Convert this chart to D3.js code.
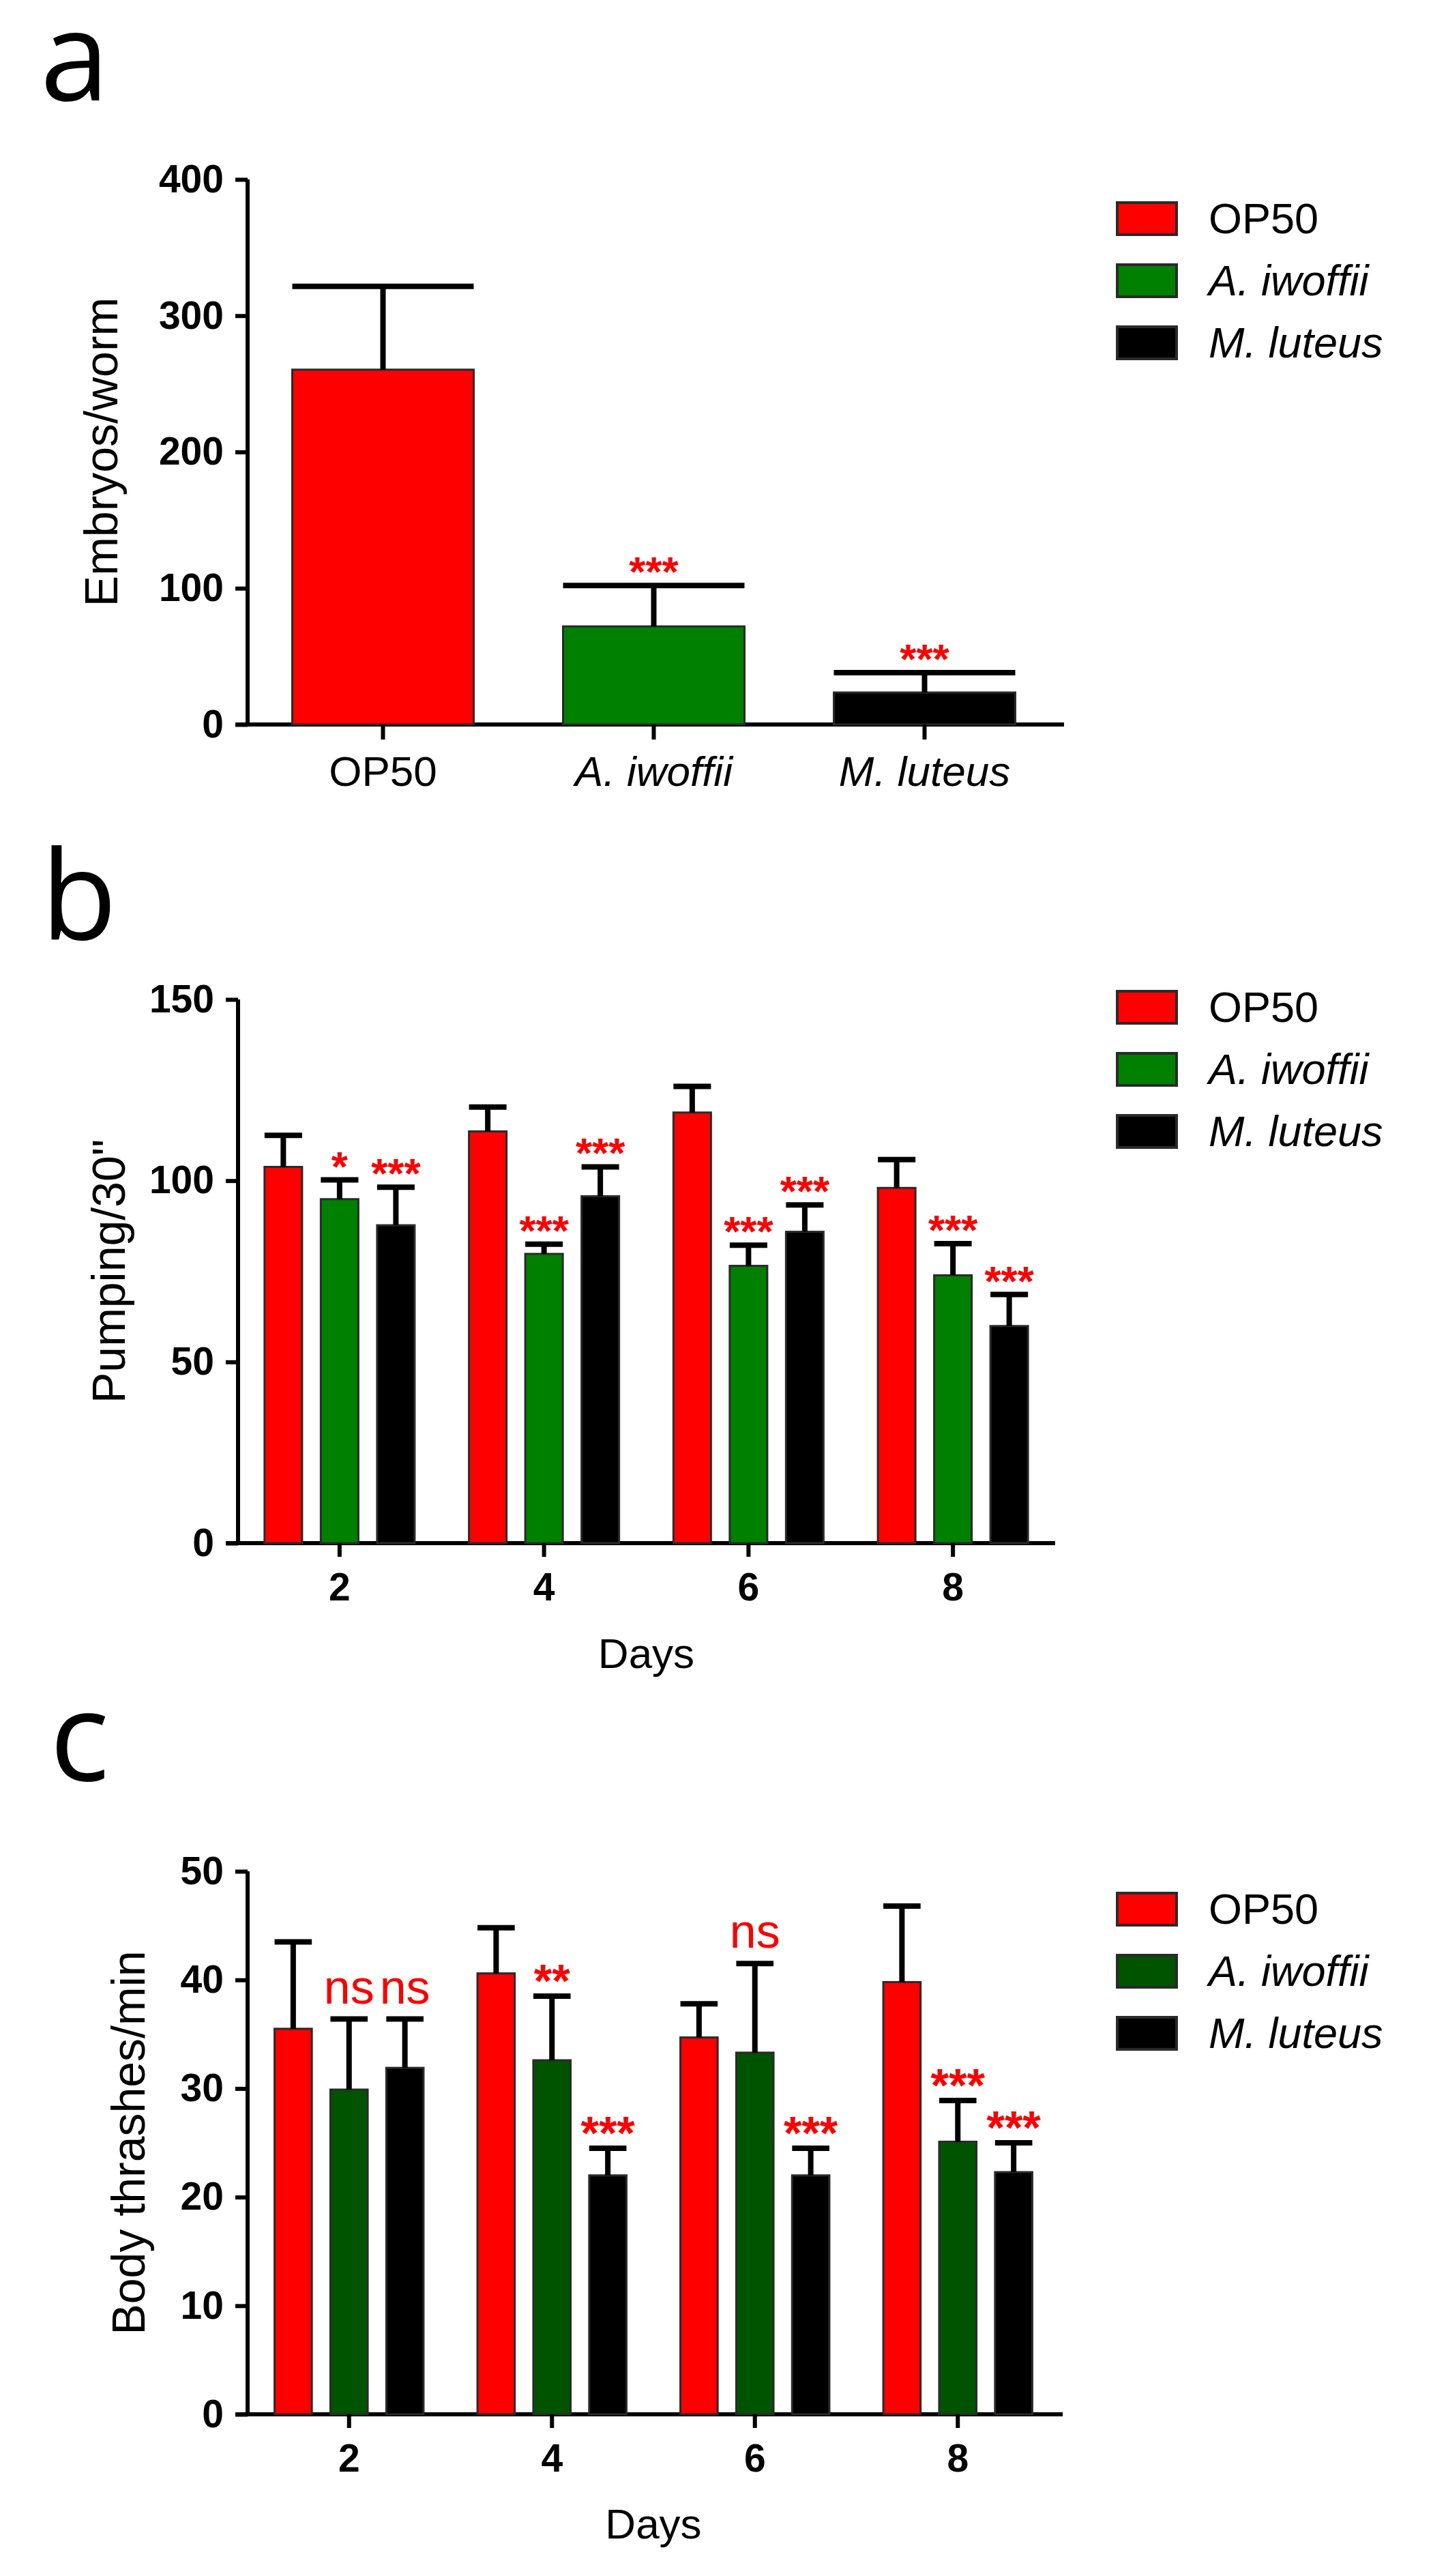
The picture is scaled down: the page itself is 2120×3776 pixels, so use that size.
<!DOCTYPE html>
<html>

<head>
  <meta charset="utf-8">
  <title>worm-panels</title>
  <style>
    * {
      padding: 0;
      margin: 0;
    }

    body {
      background: #fff;
    }

    text {
      font-family: "Liberation Sans", Arial, sans-serif;
    }

    .panel-letter {
      font-family: "Open Sans", "Noto Sans", sans-serif;
    }
  </style>
</head>

<body>
  <svg id="svg"></svg>
  <script src="https://cdnjs.cloudflare.com/ajax/libs/d3/7.8.5/d3.min.js"></script>
  <script>
    // ---- data ----
    const strains = ['OP50', 'A. iwoffii', 'M. luteus'];
    const strainColors = ['#ff0000', '#008000', '#000000'];
    const strainColorsC = ['#ff0000', '#005400', '#000000'];

    // a: embryos per worm
    const embryoMean = [260.4, 72, 23.5];
    const embryoSD = [61.1, 30, 14.5];
    const embryoSig = ['', '***', '***'];
    const embryoTicks = [0, 100, 200, 300, 400];

    // b: pumping per 30"
    const days = ['2', '4', '6', '8'];
    const pumpOP50 = [103.8, 113.6, 118.8, 98.0];
    const pumpOP50SD = [8.7, 6.7, 7.2, 7.8];
    const pumpIwoffii = [94.9, 79.8, 76.5, 73.9];
    const pumpIwoffiiSD = [5.3, 2.7, 5.7, 8.7];
    const pumpLuteus = [87.7, 95.7, 85.9, 59.9];
    const pumpLuteusSD = [10.5, 8.1, 7.4, 8.7];
    const pumpSigIwoffii = ['*', '***', '***', '***'];
    const pumpSigLuteus = ['***', '***', '***', '***'];
    const pumpTicks = [0, 50, 100, 150];

    // c: body thrashes per min
    const thrashOP50 = [35.5, 40.6, 34.7, 39.8];
    const thrashOP50SD = [8.0, 4.2, 3.1, 7.0];
    const thrashIwoffii = [29.9, 32.6, 33.3, 25.1];
    const thrashIwoffiiSD = [6.5, 5.9, 8.2, 3.8];
    const thrashLuteus = [31.9, 22.0, 22.0, 22.3];
    const thrashLuteusSD = [4.5, 2.5, 2.5, 2.7];
    const thrashSigIwoffii = ['ns', '**', 'ns', '***'];
    const thrashSigLuteus = ['ns', '***', '***', '***'];
    const thrashTicks = [0, 10, 20, 30, 40, 50];

    const svg = d3.select('#svg').attr('width', 2120).attr('height', 3776);

    function styleYAxis(g) {
      g.select('.domain').remove();
      g.selectAll('.tick line').attr('stroke', '#000').attr('stroke-width', 6);
      g.selectAll('.tick text')
        .attr('x', -35)
        .attr('fill', '#000')
        .style('font-size', '57px')
        .style('font-weight', 'bold');
    }

    function drawFrame(opt) {
      const { y, axisX, xEnd } = opt;
      // y axis
      svg.append('g')
        .attr('transform', `translate(${axisX},0)`)
        .call(d3.axisLeft(y).tickValues(opt.ticks).tickSize(18).tickSizeOuter(0).tickFormat(d3.format('d')))
        .call(styleYAxis);
      svg.append('line')
        .attr('x1', axisX).attr('x2', axisX)
        .attr('y1', y.range()[1]).attr('y2', y.range()[0] + 3)
        .attr('stroke', '#000').attr('stroke-width', 6);
      // x axis line
      svg.append('line')
        .attr('x1', axisX - 18).attr('x2', xEnd)
        .attr('y1', y(0)).attr('y2', y(0))
        .attr('stroke', '#000').attr('stroke-width', 6);
      // y title
      svg.append('text')
        .attr('transform', `translate(${opt.titleX},${(y.range()[0] + y.range()[1]) / 2}) rotate(-90)`)
        .attr('text-anchor', 'middle')
        .style('font-size', '68px')
        .text(opt.title);
      // panel letter
      svg.append('text')
        .attr('class', 'panel-letter')
        .attr('x', opt.letterX).attr('y', opt.letterY)
        .style('font-size', '182px')
        .text(opt.letter);
    }

    function drawLegend(topY, colors) {
      const g = svg.append('g').attr('transform', `translate(1638,${topY})`);
      strains.forEach((s, i) => {
        g.append('rect')
          .attr('x', 0).attr('y', i * 91)
          .attr('width', 87).attr('height', 47)
          .attr('fill', colors[i]).attr('stroke', '#2a2a2a').attr('stroke-width', 4);
        g.append('text')
          .attr('x', 134).attr('y', i * 91 + 45)
          .style('font-size', '63px')
          .style('font-style', i === 0 ? 'normal' : 'italic')
          .text(s);
      });
    }

    function drawError(g, cx, half, yTop, yMean) {
      g.append('line').attr('x1', cx).attr('x2', cx).attr('y1', yMean).attr('y2', yTop)
        .attr('stroke', '#000').attr('stroke-width', 8);
      g.append('line').attr('x1', cx - half / 2).attr('x2', cx + half / 2).attr('y1', yTop).attr('y2', yTop)
        .attr('stroke', '#000').attr('stroke-width', 8);
    }

    function drawSig(label, cx, yTop, size) {
      if (!label) return;
      const ns = label === 'ns';
      svg.append('text')
        .attr('x', cx).attr('y', ns ? yTop - 23 : yTop + 1)
        .attr('text-anchor', 'middle')
        .attr('fill', '#ff0000')
        .style('font-size', (ns ? 70 : size) + 'px')
        .style('font-weight', ns ? 'normal' : 'bold')
        .text(label);
    }

    // ---------- panel a ----------
    {
      const y = d3.scaleLinear().domain([0, 400]).range([1062, 263]);
      const x = d3.scaleBand().domain(strains).range([363, 1554]).paddingInner(0.33).paddingOuter(0.165);
      drawFrame({ y, axisX: 363, xEnd: 1560, ticks: embryoTicks, title: 'Embryos/worm', titleX: 172, letter: 'a', letterX: 59, letterY: 147 });

      const bars = svg.append('g');
      strains.forEach((s, i) => {
        bars.append('rect')
          .attr('x', x(s)).attr('y', y(embryoMean[i]))
          .attr('width', x.bandwidth()).attr('height', y(0) - y(embryoMean[i]))
          .attr('fill', strainColors[i]).attr('stroke', '#2a2a2a').attr('stroke-width', 3);
        const cx = x(s) + x.bandwidth() / 2;
        drawError(bars, cx, x.bandwidth(), y(embryoMean[i] + embryoSD[i]), y(embryoMean[i]));
        drawSig(embryoSig[i], cx, y(embryoMean[i] + embryoSD[i]), 62);
      });

      const xa = svg.append('g')
        .attr('transform', `translate(0,${y(0)})`)
        .call(d3.axisBottom(x).tickSize(22).tickSizeOuter(0));
      xa.select('.domain').remove();
      xa.selectAll('.tick line').attr('stroke', '#000').attr('stroke-width', 6);
      xa.selectAll('.tick text')
        .attr('y', 90).attr('dy', 0).attr('fill', '#000')
        .style('font-size', '62px')
        .style('font-style', d => d === 'OP50' ? 'normal' : 'italic');

      drawLegend(297, strainColors);
    }

    // ---------- grouped panels b and c ----------
    function drawGrouped(opt) {
      const { y, x0Range, means, sds, sigs, colors } = opt;
      const x0 = d3.scaleBand().domain(days).range(x0Range);
      const x1 = d3.scaleBand().domain(strains).range([0, x0.bandwidth()]).paddingInner(0.333).paddingOuter(0.483);
      drawFrame({ y, axisX: opt.axisX, xEnd: opt.xEnd, ticks: opt.ticks, title: opt.title, titleX: opt.titleX, letter: opt.letter, letterX: opt.letterX, letterY: opt.letterY });

      const bars = svg.append('g');
      days.forEach((d, di) => {
        strains.forEach((s, si) => {
          const v = means[si][di];
          const top = v + sds[si][di];
          const bx = x0(d) + x1(s);
          bars.append('rect')
            .attr('x', bx).attr('y', y(v))
            .attr('width', x1.bandwidth()).attr('height', y(0) - y(v))
            .attr('fill', colors[si]).attr('stroke', '#2a2a2a').attr('stroke-width', 3);
          const cx = bx + x1.bandwidth() / 2;
          drawError(bars, cx, x1.bandwidth(), y(top), y(v));
          drawSig(sigs[si][di], cx, y(top), opt.sigSize);
        });
      });

      const xa = svg.append('g')
        .attr('transform', `translate(0,${y(0)})`)
        .call(d3.axisBottom(x0).tickSize(20).tickSizeOuter(0));
      xa.select('.domain').remove();
      xa.selectAll('.tick line').attr('stroke', '#000').attr('stroke-width', 6);
      xa.selectAll('.tick text')
        .attr('y', 84).attr('dy', 0).attr('fill', '#000')
        .style('font-size', '57px').style('font-weight', 'bold');

      svg.append('text')
        .attr('x', (x0Range[0] + x0Range[1]) / 2).attr('y', opt.daysY)
        .attr('text-anchor', 'middle')
        .style('font-size', '62px')
        .text('Days');

      drawLegend(opt.legendY, colors);
    }

    drawGrouped({
      y: d3.scaleLinear().domain([0, 150]).range([2262, 1465]),
      x0Range: [348, 1547], axisX: 349, xEnd: 1547,
      ticks: pumpTicks,
      means: [pumpOP50, pumpIwoffii, pumpLuteus],
      sds: [pumpOP50SD, pumpIwoffiiSD, pumpLuteusSD],
      sigs: [['', '', '', ''], pumpSigIwoffii, pumpSigLuteus],
      colors: strainColors,
      title: 'Pumping/30"', titleX: 183,
      letter: 'b', letterX: 60, letterY: 1377,
      daysY: 2445, legendY: 1453, sigSize: 62
    });

    drawGrouped({
      y: d3.scaleLinear().domain([0, 50]).range([3539, 2743]),
      x0Range: [363, 1553], axisX: 363, xEnd: 1558,
      ticks: thrashTicks,
      means: [thrashOP50, thrashIwoffii, thrashLuteus],
      sds: [thrashOP50SD, thrashIwoffiiSD, thrashLuteusSD],
      sigs: [['', '', '', ''], thrashSigIwoffii, thrashSigLuteus],
      colors: strainColorsC,
      title: 'Body thrashes/min', titleX: 212,
      letter: 'c', letterX: 73, letterY: 2610,
      daysY: 3721, legendY: 2775, sigSize: 68
    });
  </script>
</body>

</html>
